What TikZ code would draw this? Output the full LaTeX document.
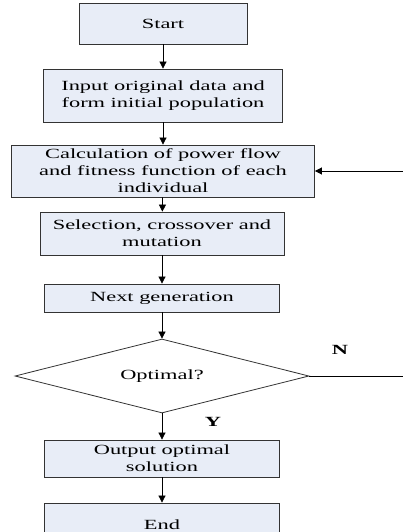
\documentclass[tikz,border=0pt]{standalone}
\usepackage{fontspec}
\setmainfont[FakeStretch=1.6]{Liberation Serif}
\usepackage{tikz}
\usetikzlibrary{arrows.meta,shapes.geometric}

\definecolor{boxfill}{HTML}{E8EDF7}
\definecolor{boxline}{HTML}{333333}

\tikzset{
    stepbox/.style={
        draw=boxline,
        fill=boxfill,
        line width=0.8pt,
        align=center,
        inner sep=0pt,
        font=\fontsize{14}{17}\selectfont
    },
    flow/.style={
        draw=black,
        line width=0.7pt,
        -{Triangle[length=7pt,width=7pt]}
    }
}

\begin{document}
\begin{tikzpicture}[x=1pt,y=-1pt]

\useasboundingbox (0,0) rectangle (403,532);

\node[stepbox, minimum width=168pt, minimum height=41pt] (start) at (163,23.5)
{Start};

\node[stepbox, minimum width=239pt, minimum height=53pt] (input) at (163,95.5)
{Input original data and\\
form initial population};

\node[stepbox, minimum width=303pt, minimum height=52pt] (calc) at (163,171)
{Calculation of power flow\\
and fitness function of each\\
individual};

\node[stepbox, minimum width=244pt, minimum height=43pt] (select) at (162,233.5)
{Selection, crossover and\\
mutation};

\node[stepbox, minimum width=235pt, minimum height=28pt] (next) at (162,298)
{Next generation};

\node[
    diamond,
    draw=boxline,
    line width=0.8pt,
    aspect=4,
    inner sep=0pt,
    minimum width=294pt,
    minimum height=74pt,
    font=\fontsize{14}{17}\selectfont
] (opt) at (162,376)
{Optimal?};

\node[stepbox, minimum width=235pt, minimum height=37pt] (output) at (162,458.5)
{Output optimal\\
solution};

\node[stepbox, minimum width=235pt, minimum height=44pt] (end) at (162,525)
{End};

\node[font=\fontsize{14}{17}\selectfont\bfseries] (nlabel) at (340,350) {N};
\node[font=\fontsize{14}{17}\selectfont\bfseries] (ylabel) at (213,422) {Y};

\coordinate (fbin) at (403,171);
\coordinate (nout) at (403,376);

\draw[flow] (start) -- (input);
\draw[flow] (input) -- (calc);
\draw[flow] (calc) -- (select);
\draw[flow] (select) -- (next);
\draw[flow] (next) -- (opt);
\draw[flow] (opt) -- (output);
\draw[flow] (output) -- (end);
\draw[flow] (fbin) -- (calc.east);
\draw[line width=0.7pt] (opt.east) -- (nout);

\end{tikzpicture}
\end{document}
